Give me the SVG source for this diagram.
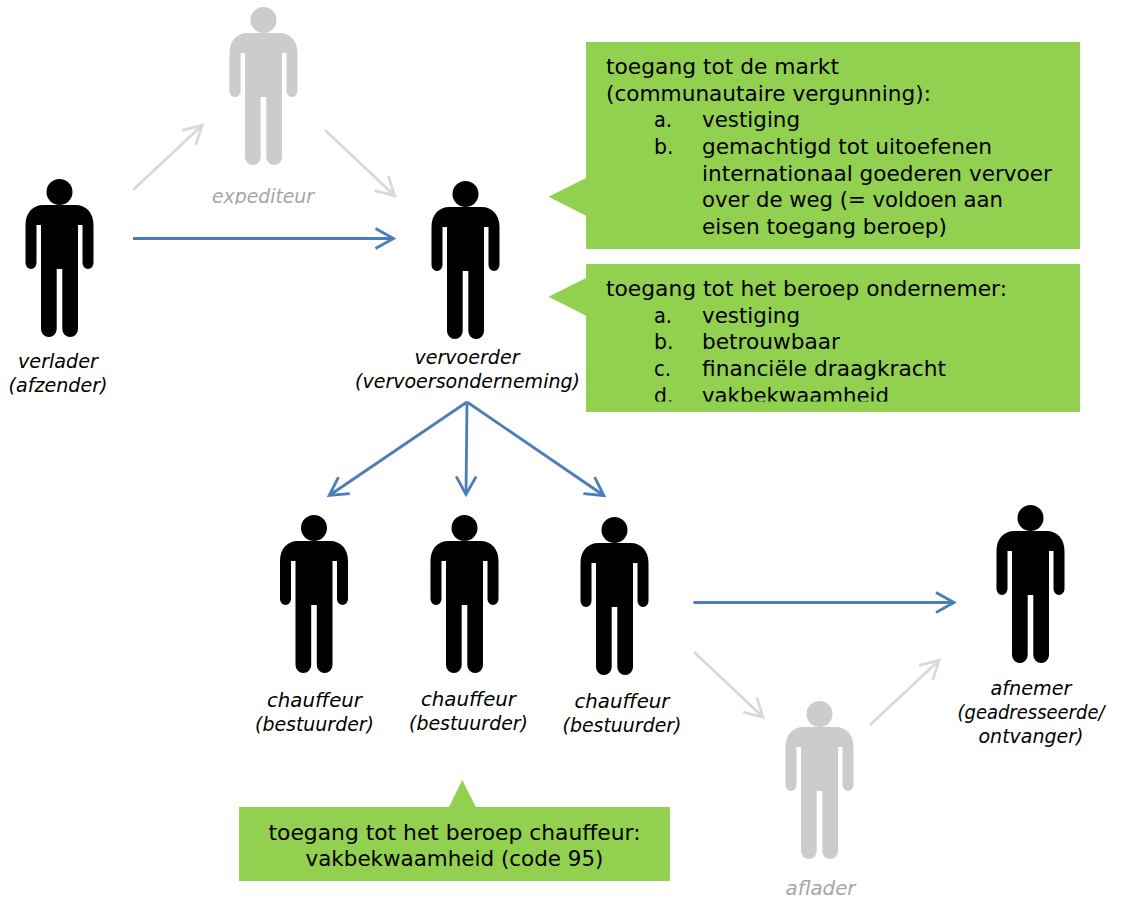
<svg xmlns="http://www.w3.org/2000/svg" width="1125" height="899" viewBox="0 0 1125 899">
<style>
.box{fill:#92d050}
.t{font-family:"DejaVu Sans","Liberation Sans",sans-serif;font-size:22px;fill:#000}
.m{text-anchor:middle}
.l{font-family:"DejaVu Sans","Liberation Sans",sans-serif;font-size:19.5px;font-style:italic;text-anchor:middle;fill:#000}
.g{fill:#a6a6a6}
.b{fill:none;stroke:#4a7ebb;stroke-width:2.8}
.y{fill:none;stroke:#d9d9d9;stroke-width:2.8}
.p{fill:#000}
.q{fill:#cccccc}
</style>
<defs>
<symbol id="person" overflow="visible" viewBox="-40 -20 80 170" width="80" height="170" x="-40" y="-20">
<circle cx="0" cy="0" r="13"/>
<path d="M-16,13H16C27,13 34,21 34,33V71A5.5,6 0 0 1 23,71V33H18.5V137A7.85,8 0 0 1 2.8,137V77H-2.8V137A7.85,8 0 0 1 -18.5,137V33H-23V71A5.5,6 0 0 1 -34,71V33C-34,21 -27,13 -16,13Z"/>
</symbol>
<marker id="ab" markerUnits="userSpaceOnUse" markerWidth="30" markerHeight="30" refX="20" refY="12" orient="auto" overflow="visible"><path d="M2,2L20,12L2,22" fill="none" stroke="#4a7ebb" stroke-width="2.8"/></marker>
<marker id="ay" markerUnits="userSpaceOnUse" markerWidth="30" markerHeight="30" refX="20" refY="12" orient="auto" overflow="visible"><path d="M2,2L20,12L2,22" fill="none" stroke="#d9d9d9" stroke-width="2.8"/></marker>
<clipPath id="c1"><rect x="180" y="180" width="170" height="24.5"/></clipPath>
<clipPath id="c2"><rect x="586" y="264" width="494" height="137.5"/></clipPath>
</defs>
<g id="connectors">
<path class="y" marker-end="url(#ay)" d="M133,190L202.1,125.3"/>
<path class="y" marker-end="url(#ay)" d="M325,130L394.6,195.7"/>
<path class="b" marker-end="url(#ab)" d="M133,238.5H393.5"/>
<path class="b" marker-end="url(#ab)" d="M467,402L329.2,495.5"/>
<path class="b" marker-end="url(#ab)" d="M467,402L466,494.4"/>
<path class="b" marker-end="url(#ab)" d="M467,402L603.9,495.5"/>
<path class="b" marker-end="url(#ab)" d="M693.5,602.5H954"/>
<path class="y" marker-end="url(#ay)" d="M694,652L763.1,717.2"/>
<path class="y" marker-end="url(#ay)" d="M870,725L939.1,660.3"/>
</g>
<g id="verlader"><use href="#person" x="59.5" y="192" class="p"/>
<text class="l" x="58" y="367.5" textLength="80" lengthAdjust="spacingAndGlyphs">verlader</text>
<text class="l" x="58" y="391.5" textLength="99" lengthAdjust="spacingAndGlyphs">(afzender)</text></g>
<g id="expediteur"><use href="#person" x="263.5" y="20" class="q"/>
<text class="l g" x="263" y="203" textLength="102" lengthAdjust="spacingAndGlyphs" clip-path="url(#c1)">expediteur</text></g>
<g id="vervoerder"><use href="#person" x="465.5" y="194" class="p"/>
<text class="l" x="467" y="364" textLength="105" lengthAdjust="spacingAndGlyphs">vervoerder</text>
<text class="l" x="467.5" y="387.5" textLength="225" lengthAdjust="spacingAndGlyphs">(vervoersonderneming)</text></g>
<g id="chauffeur1"><use href="#person" x="314" y="528" class="p"/>
<text class="l" x="314.5" y="707" textLength="95" lengthAdjust="spacingAndGlyphs">chauffeur</text>
<text class="l" x="314.5" y="731" textLength="119" lengthAdjust="spacingAndGlyphs">(bestuurder)</text></g>
<g id="chauffeur2"><use href="#person" x="464.5" y="528" class="p"/>
<text class="l" x="468.5" y="706" textLength="95" lengthAdjust="spacingAndGlyphs">chauffeur</text>
<text class="l" x="468.5" y="730" textLength="119" lengthAdjust="spacingAndGlyphs">(bestuurder)</text></g>
<g id="chauffeur3"><use href="#person" x="614.5" y="530" class="p"/>
<text class="l" x="622" y="708" textLength="95" lengthAdjust="spacingAndGlyphs">chauffeur</text>
<text class="l" x="622" y="732" textLength="119" lengthAdjust="spacingAndGlyphs">(bestuurder)</text></g>
<g id="afnemer"><use href="#person" x="1030.5" y="518" class="p"/>
<text class="l" x="1031" y="695" textLength="81" lengthAdjust="spacingAndGlyphs">afnemer</text>
<text class="l" x="1031" y="719" textLength="147" lengthAdjust="spacingAndGlyphs">(geadresseerde/</text>
<text class="l" x="1031" y="743" textLength="105" lengthAdjust="spacingAndGlyphs">ontvanger)</text></g>
<g id="aflader"><use href="#person" x="819.5" y="714" class="q"/>
<text class="l g" x="820.5" y="895" textLength="70" lengthAdjust="spacingAndGlyphs">aflader</text></g>
<g id="markt">
<path class="box" d="M586,42H1080V249H586V215.7L548.6,196.7L586,178Z"/>
<text class="t" x="606" y="74" textLength="233" lengthAdjust="spacingAndGlyphs">toegang tot de markt</text>
<text class="t" x="606" y="100.5" textLength="325" lengthAdjust="spacingAndGlyphs">(communautaire vergunning):</text>
<text class="t" x="654" y="127" textLength="18" lengthAdjust="spacingAndGlyphs">a.</text>
<text class="t" x="702" y="127" textLength="98" lengthAdjust="spacingAndGlyphs">vestiging</text>
<text class="t" x="654" y="154" textLength="19.5" lengthAdjust="spacingAndGlyphs">b.</text>
<text class="t" x="702" y="154" textLength="290" lengthAdjust="spacingAndGlyphs">gemachtigd tot uitoefenen</text>
<text class="t" x="702" y="180.5" textLength="350" lengthAdjust="spacingAndGlyphs">internationaal goederen vervoer</text>
<text class="t" x="702" y="207" textLength="301" lengthAdjust="spacingAndGlyphs">over de weg (= voldoen aan</text>
<text class="t" x="702" y="234" textLength="245" lengthAdjust="spacingAndGlyphs">eisen toegang beroep)</text>
</g>
<g id="ondernemer">
<path class="box" d="M586,264H1080V412H586V315.7L548.6,296.7L586,278Z"/>
<g clip-path="url(#c2)">
<text class="t" x="606" y="296" textLength="401" lengthAdjust="spacingAndGlyphs">toegang tot het beroep ondernemer:</text>
<text class="t" x="654" y="322.5" textLength="18" lengthAdjust="spacingAndGlyphs">a.</text>
<text class="t" x="702" y="322.5" textLength="98" lengthAdjust="spacingAndGlyphs">vestiging</text>
<text class="t" x="654" y="349" textLength="19.5" lengthAdjust="spacingAndGlyphs">b.</text>
<text class="t" x="702" y="349" textLength="138" lengthAdjust="spacingAndGlyphs">betrouwbaar</text>
<text class="t" x="654" y="376" textLength="17" lengthAdjust="spacingAndGlyphs">c.</text>
<text class="t" x="702" y="376" textLength="244" lengthAdjust="spacingAndGlyphs">financiële draagkracht</text>
<text class="t" x="654" y="402.5" textLength="19.5" lengthAdjust="spacingAndGlyphs">d.</text>
<text class="t" x="702" y="402.5" textLength="187" lengthAdjust="spacingAndGlyphs">vakbekwaamheid</text>
</g>
</g>
<g id="chauffeur-eisen">
<path class="box" d="M239,807H449L462.3,780L475.7,807H670V881H239Z"/>
<text class="t m" x="454.5" y="839.5" textLength="372" lengthAdjust="spacingAndGlyphs">toegang tot het beroep chauffeur:</text>
<text class="t m" x="454.5" y="866" textLength="298" lengthAdjust="spacingAndGlyphs">vakbekwaamheid (code 95)</text>
</g>
</svg>
